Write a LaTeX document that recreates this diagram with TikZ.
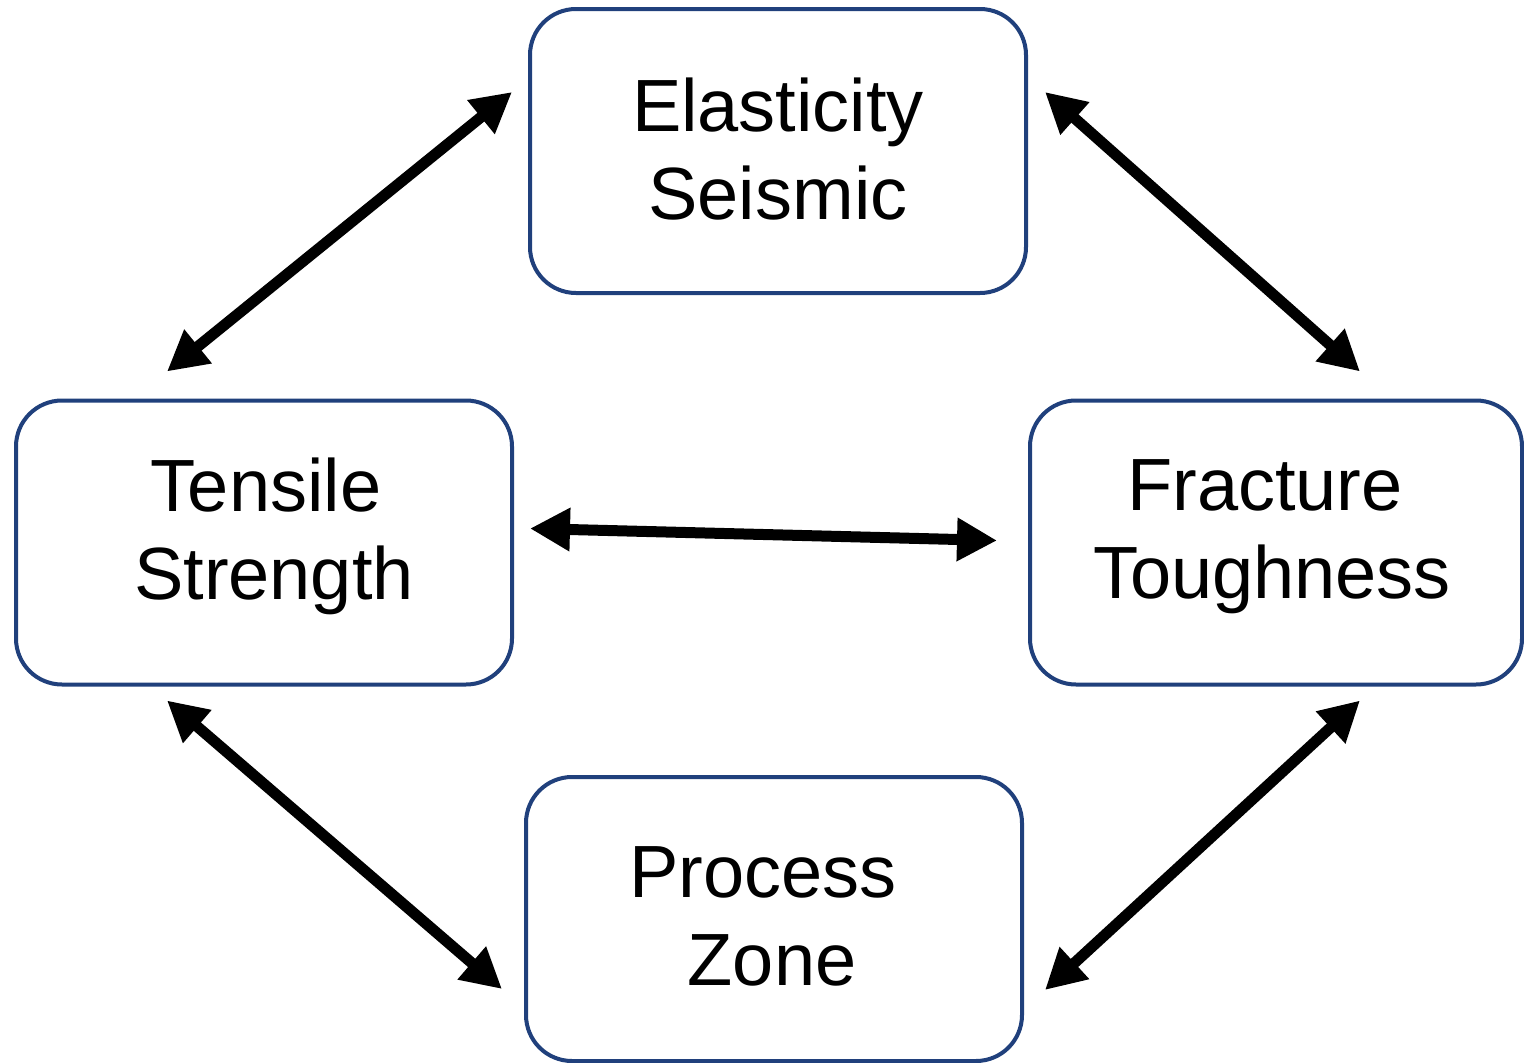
\documentclass[tikz,border=0pt]{standalone}
\usepackage{fontspec}
\setmainfont{Liberation Sans}
\usetikzlibrary{arrows.meta,calc}
\definecolor{boxblue}{RGB}{32,64,124}
\begin{document}
\begin{tikzpicture}[x=1pt,y=-1pt,
  box/.style={draw=boxblue,line width=4pt,rounded corners=46pt,
    minimum width=496pt,minimum height=284pt,inner sep=0pt},
  lbl/.style={inner sep=0pt,align=center,font=\fontsize{74}{88}\selectfont},
  link/.style={line width=11pt,{Triangle[length=40pt,width=41pt]}-{Triangle[length=40pt,width=41pt]}}]
\useasboundingbox (0,0) rectangle (1524,1063);
\fill[white] (0,0) rectangle (1524,1063);
\node[box] (T) at (778,151) {};
\node[box] (L) at (264,542.5) {};
\node[box,minimum width=492pt] (R) at (1276,542.5) {};
\node[box] (B) at (774,919) {};
\node[lbl] (Tt) at ($(T.center)+(0,-2)$) {Elasticity\\Seismic};
\node[lbl] (Lt) at ($(L.center)+(5,-6)$) {Tensile\hspace*{6pt}\\\hspace*{10pt}Strength};
\node[lbl] (Rt) at ($(R.center)+(-4,-6)$) {Fracture\hspace*{14pt}\\Toughness};
\node[lbl] (Bt) at ($(B.center)+(-3,-3)$) {Process\hspace*{16pt}\\\hspace*{2pt}Zone};
\draw[link] ($(T.north west)+(-16,85)$) -- ($(L.north west)+(153,-27)$);
\draw[link] ($(T.north east)+(17,85)$) -- ($(R.north west)+(332,-27)$);
\draw[link] ($(L.east)+(16,-14)$) -- ($(R.west)+(-31,-2)$);
\draw[link] ($(L.south west)+(153,14)$) -- ($(B.west)+(-22,70)$);
\draw[link] ($(R.south west)+(332,14)$) -- ($(B.east)+(21,71)$);
\end{tikzpicture}
\end{document}
